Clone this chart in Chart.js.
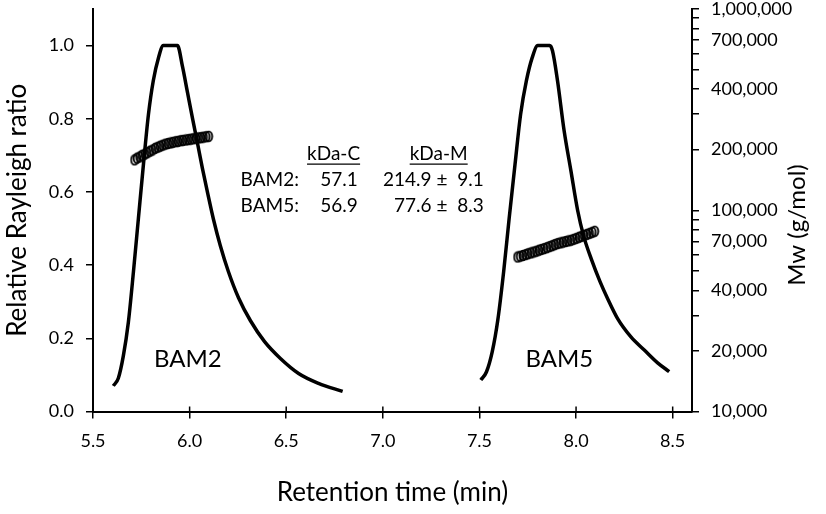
<!DOCTYPE html>
<html><head><meta charset="utf-8">
<script src="https://cdn.jsdelivr.net/npm/chart.js@4.4.1/dist/chart.umd.min.js"></script>
<style>html,body{margin:0;padding:0;background:#fff}#wrap{width:826px;height:514px}</style>
</head><body><div id="wrap"><canvas id="c" width="826" height="514"></canvas></div>
<script>
// ---- data ----
const bam2Time  = [5.605,5.631,5.657,5.683,5.709,5.735,5.761,5.787,5.812,5.839,5.864,5.898,5.937,5.963,5.989,6.015,6.041,6.066,6.092,6.123,6.159,6.201,6.253,6.315,6.388,6.470,6.564,6.667,6.792];
const bam2Ratio = [0.070,0.091,0.152,0.244,0.380,0.528,0.675,0.812,0.904,0.967,1.000,1.000,1.000,0.943,0.872,0.801,0.733,0.665,0.600,0.526,0.453,0.382,0.311,0.248,0.191,0.145,0.104,0.077,0.055];
const bam5Time  = [7.507,7.536,7.566,7.595,7.625,7.654,7.684,7.713,7.743,7.773,7.802,7.833,7.864,7.878,7.904,7.938,7.973,8.008,8.039,8.080,8.124,8.163,8.215,8.284,8.353,8.422,8.482];
const bam5Ratio = [0.086,0.108,0.163,0.250,0.381,0.529,0.675,0.812,0.904,0.967,1.000,1.000,1.000,0.986,0.904,0.768,0.659,0.550,0.480,0.415,0.355,0.309,0.254,0.204,0.168,0.133,0.109];

const bam2MwTime = [5.715,5.728,5.741,5.754,5.768,5.781,5.794,5.807,5.821,5.834,5.847,5.860,5.874,5.887,5.900,5.913,5.927,5.940,5.953,5.966,5.980,5.993,6.006,6.019,6.033,6.046,6.059,6.072,6.086,6.099];
const bam2Mw     = [178000,181500,184000,187500,190000,193000,196500,199000,203000,205500,208000,210500,213000,214500,216000,217500,219000,220000,221500,222500,223500,224500,225500,226500,228000,229000,229500,231000,232000,233000];
const bam5MwTime = [7.697,7.711,7.725,7.739,7.752,7.766,7.780,7.794,7.808,7.821,7.835,7.849,7.863,7.877,7.890,7.904,7.918,7.932,7.946,7.959,7.973,7.987,8.001,8.015,8.028,8.042,8.056,8.070,8.084,8.097];
const bam5Mw     = [58600,59100,59600,60200,60800,61400,62000,62600,63300,63900,64500,65200,66000,66700,67500,68300,68800,69400,69900,70400,70900,71700,72500,73400,74200,75100,75900,76800,77700,78600];

const xTicks = [5.5,6.0,6.5,7.0,7.5,8.0,8.5];
const yTicks = [0.0,0.2,0.4,0.6,0.8,1.0];
const mwTicks = [10000,20000,30000,40000,50000,60000,70000,80000,90000,100000,200000,300000,400000,500000,600000,700000,800000,900000,1000000];
const mwLabelled = [10000,20000,40000,70000,100000,200000,400000,700000,1000000];

const tableHeader = ['kDa-C','kDa-M'];
const tableRows = [['BAM2:','57.1','214.9 \u00b1  9.1'],['BAM5:','56.9','77.6 \u00b1  8.3']];
const peakLabels = [['BAM2',5.991,0.143],['BAM5',7.913,0.143]];

const FONT = 'Lato, "Open Sans", sans-serif';
const pts = (xs, ys) => xs.map((x, i) => ({x: x, y: ys[i]}));

// open ellipse marker (like the reference's "o" markers)
const marker = document.createElement('canvas');
marker.width = 10; marker.height = 13;
(function(){ const m = marker.getContext('2d'); m.strokeStyle = '#000'; m.lineWidth = 1.9; m.beginPath(); m.ellipse(5, 6.5, 3.4, 4.9, 0, 0, Math.PI*2); m.stroke(); })();

const insideTicks = {
  id: 'insideTicks',
  afterDraw(chart) {
    const ctx = chart.ctx, xs = chart.scales.x, b = chart.chartArea.bottom;
    ctx.save(); ctx.strokeStyle = '#000'; ctx.lineWidth = 1.5;
    xTicks.forEach(v => { const px = xs.getPixelForValue(v); ctx.beginPath(); ctx.moveTo(px, b); ctx.lineTo(px, b - 5); ctx.stroke(); });
    ctx.restore();
  }
};

const annotations = {
  id: 'annotations',
  afterDraw(chart) {
    const ctx = chart.ctx, xs = chart.scales.x, ys = chart.scales.y;
    const X = v => xs.getPixelForValue(v), Y = v => ys.getPixelForValue(v);
    ctx.save();
    ctx.fillStyle = '#000'; ctx.strokeStyle = '#000';
    ctx.textBaseline = 'middle';
    ctx.font = '19px ' + FONT;
    const hdr = [[tableHeader[0], 6.745], [tableHeader[1], 7.289]];
    hdr.forEach(([t, xv]) => {
      ctx.textAlign = 'center';
      const px = X(xv), py = Y(0.705);
      ctx.fillText(t, px, py);
      const w = ctx.measureText(t).width;
      ctx.lineWidth = 1.3; ctx.beginPath(); ctx.moveTo(px - w/2, py + 10.5); ctx.lineTo(px + w/2, py + 10.5); ctx.stroke();
    });
    const rowY = [0.634, 0.563];
    tableRows.forEach((r, i) => {
      const py = Y(rowY[i]);
      ctx.textAlign = 'left'; ctx.fillText(r[0], X(6.264), py);
      ctx.textAlign = 'right'; ctx.fillText(r[1], X(6.870), py);
      ctx.fillText(r[2], X(7.522), py);
    });
    ctx.font = '24px ' + FONT;
    ctx.textAlign = 'center';
    peakLabels.forEach(([t, xv, yv]) => ctx.fillText(t, X(xv), Y(yv)));
    // right axis title, reading bottom to top
    ctx.font = '24px ' + FONT;
    ctx.translate(797, 225); ctx.rotate(-Math.PI/2);
    ctx.fillText('Mw (g/mol)', 0, 0);
    ctx.restore();
  }
};

const noPadY = s => { s.paddingTop = 0; s.paddingBottom = 0; };

new Chart(document.getElementById('c'), {
  type: 'scatter',
  data: {
    datasets: [
      {data: pts(bam2Time, bam2Ratio), showLine: true, pointRadius: 0, borderColor: '#000', borderWidth: 3.5, cubicInterpolationMode: 'monotone', yAxisID: 'y'},
      {data: pts(bam5Time, bam5Ratio), showLine: true, pointRadius: 0, borderColor: '#000', borderWidth: 3.5, cubicInterpolationMode: 'monotone', yAxisID: 'y'},
      {data: pts(bam2MwTime, bam2Mw), showLine: false, pointStyle: marker, pointRadius: 5, yAxisID: 'y2'},
      {data: pts(bam5MwTime, bam5Mw), showLine: false, pointStyle: marker, pointRadius: 5, yAxisID: 'y2'}
    ]
  },
  options: {
    responsive: false, animation: false, devicePixelRatio: 1,
    layout: {padding: {top: 9, left: 0, right: 0, bottom: 0}},
    plugins: {legend: {display: false}, tooltip: {enabled: false}},
    scales: {
      x: {
        type: 'linear', position: 'bottom', min: 5.5, max: 8.6,
        afterBuildTicks: s => { s.ticks = xTicks.map(v => ({value: v})); },
        afterFit: s => { s.height = 102.5; s.paddingLeft = 0; s.paddingRight = 0; },
        ticks: {color: '#000', font: {size: 18, family: FONT}, padding: 12, callback: v => Number(v).toFixed(1), maxRotation: 0},
        grid: {drawOnChartArea: false, color: '#000', lineWidth: 1.5, tickLength: 7},
        border: {color: '#000', width: 2},
        title: {display: true, text: 'Retention time (min)', color: '#000', font: {size: 26, family: FONT}, padding: {top: 0, bottom: 6}}
      },
      y: {
        type: 'linear', position: 'left', min: 0, max: 1.1,
        afterBuildTicks: s => { s.ticks = yTicks.map(v => ({value: v})); },
        afterFit: s => { s.width = 93; noPadY(s); },
        ticks: {color: '#000', font: {size: 18, family: FONT}, padding: 12, callback: v => Number(v).toFixed(1)},
        grid: {drawOnChartArea: false, color: '#000', lineWidth: 1.5, tickLength: 7},
        border: {color: '#000', width: 2},
        title: {display: true, text: 'Relative Rayleigh ratio', color: '#000', font: {size: 26, family: FONT}, padding: {top: 2, bottom: 0}}
      },
      y2: {
        type: 'logarithmic', position: 'right', min: 10000, max: 1000000,
        afterBuildTicks: s => { s.ticks = mwTicks.map(v => ({value: v})); },
        afterFit: s => { s.width = 134; noPadY(s); },
        ticks: {color: '#000', font: {size: 18, family: FONT}, padding: 12, autoSkip: false,
          callback: v => mwLabelled.includes(Math.round(v)) ? Math.round(v).toLocaleString('en-US') : ''},
        grid: {drawOnChartArea: false, color: '#000', lineWidth: 1.5, tickLength: 7},
        border: {color: '#000', width: 2}
      }
    }
  },
  plugins: [insideTicks, annotations]
});
</script></body></html>
